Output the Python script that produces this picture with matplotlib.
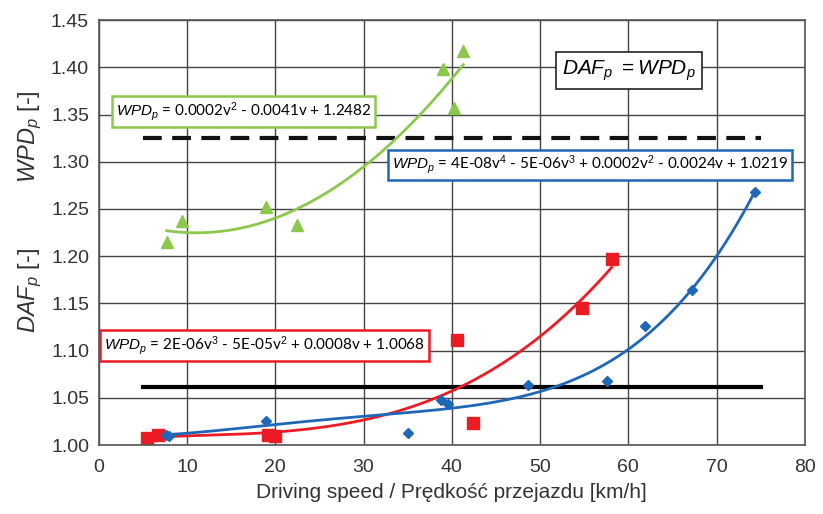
import matplotlib
matplotlib.use('Agg')
import matplotlib.pyplot as plt
import numpy as np

plt.rcParams['font.family'] = ['Liberation Sans', 'DejaVu Sans']
plt.rcParams['mathtext.fontset'] = 'custom'
plt.rcParams['mathtext.rm'] = 'Liberation Sans'
plt.rcParams['mathtext.it'] = 'Liberation Sans:italic'

# green triangles
green_v = [7.7, 9.4, 18.9, 22.5, 39.0, 40.2, 41.3]
green_w = [1.215, 1.237, 1.252, 1.233, 1.398, 1.357, 1.417]
# red squares
red_v = [5.5, 6.7, 19.2, 20.0, 40.6, 42.4, 54.8, 58.1]
red_w = [1.008, 1.011, 1.011, 1.0095, 1.111, 1.023, 1.145, 1.197]
# blue diamonds
blue_v = [7.6, 8.0, 18.9, 35.0, 38.8, 39.6, 48.6, 57.6, 61.9, 67.2, 74.3]
blue_w = [1.011, 1.010, 1.026, 1.013, 1.048, 1.044, 1.064, 1.068, 1.126, 1.164, 1.268]

daf_dashed = 1.325
daf_solid = 1.062
line_span = [5, 75]

xticks = np.arange(0, 81, 10)
yticks = np.arange(1.00, 1.451, 0.05)

GREEN = '#8cc84b'
RED = '#ec1c24'
BLUE = '#1f68b8'

fig = plt.figure(figsize=(8.23, 5.14), dpi=100)
ax = fig.add_axes([0.120, 0.134, 0.858, 0.827])

ax.plot(line_span, [daf_dashed] * 2, color='#111111', lw=3, ls=(0, (4.5, 2.5)))
ax.plot(line_span, [daf_solid] * 2, color='#000000', lw=3)

for v, w, deg, c in [(green_v, green_w, 2, GREEN), (red_v, red_w, 3, RED), (blue_v, blue_w, 4, BLUE)]:
    p = np.polyfit(v, w, deg)
    xs = np.linspace(min(v), max(v), 200)
    ax.plot(xs, np.polyval(p, xs), color=c, lw=2)

ax.plot(green_v, green_w, '^', color=GREEN, ms=8.5, ls='none')
ax.plot(red_v, red_w, 's', color=RED, ms=8, ls='none')
ax.plot(blue_v, blue_w, 'D', color=BLUE, ms=5.5, ls='none')

ax.set_xlim(0, 80)
ax.set_ylim(1.0, 1.45)
ax.set_xticks(xticks)
ax.set_yticks(yticks)
ax.set_yticklabels([f'{t:.2f}' for t in yticks])
ax.grid(True, color='#444444', lw=1)
ax.set_axisbelow(True)
ax.tick_params(length=0, labelsize=14, colors='#333333')
ax.tick_params(axis='x', pad=10)
ax.tick_params(axis='y', pad=7)
for s in ax.spines.values():
    s.set_color('#555555')
    s.set_linewidth(1.2)

ax.set_xlabel('Driving speed / Prędkość przejazdu [km/h]', fontsize=15, color='#333333', labelpad=5)

fig.text(0.037, 0.435, r'$DAF_p$ [-]', rotation=90, ha='center', va='center', fontsize=17, color='#333333')
fig.text(0.037, 0.735, r'$WPD_p$ [-]', rotation=90, ha='center', va='center', fontsize=17, color='#333333')

box_kw = dict(boxstyle='square,pad=0.25', fc='white', lw=1.8)
ax.text(1.9, 1.353, r'$WPD_p$ = 0.0002v$^2$ - 0.0041v + 1.2482', fontsize=11, family='Lato',
        ha='left', va='center', bbox=dict(ec=GREEN, **box_kw))
ax.text(33.2, 1.2966, r'$WPD_p$ = 4E-08v$^4$ - 5E-06v$^3$ + 0.0002v$^2$ - 0.0024v + 1.0219', fontsize=11,
        family='Lato', ha='left', va='center', bbox=dict(ec=BLUE, **box_kw))
ax.text(0.6, 1.1056, r'$WPD_p$ = 2E-06v$^3$ - 5E-05v$^2$ + 0.0008v + 1.0068', fontsize=11, family='Lato',
        ha='left', va='center', bbox=dict(ec=RED, **box_kw))
ax.text(60.1, 1.3965, r'$DAF_{p}\ =WPD_{p}$', fontsize=15, ha='center', va='center',
        bbox=dict(boxstyle='square,pad=0.3', fc='white', ec='#222222', lw=1.2))

fig.savefig('out.png', dpi=100)
